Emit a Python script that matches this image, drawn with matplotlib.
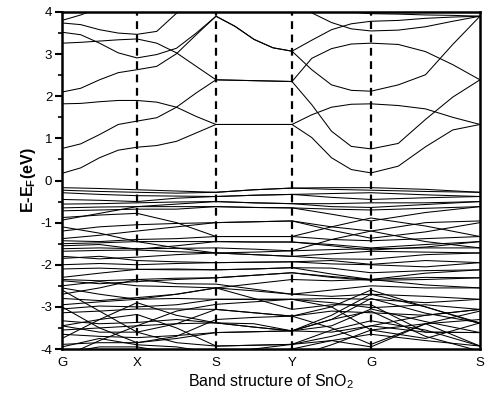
import numpy as np
import matplotlib
matplotlib.use("Agg")
import matplotlib.pyplot as plt

plt.rcParams['font.family'] = ['Liberation Sans', 'DejaVu Sans']
plt.rcParams['mathtext.fontset'] = 'custom'
plt.rcParams['mathtext.rm'] = 'Liberation Sans'
plt.rcParams['mathtext.bf'] = 'Liberation Sans:bold'
plt.rcParams['mathtext.it'] = 'Liberation Sans:italic'

# high-symmetry path and its k-distances (relative)
hs_labels = ["G", "X", "S", "Y", "G", "S"]
hs_k = [0.0, 0.75, 1.54, 2.30, 3.09, 4.18]

# conduction bands: 4 subdivisions per segment (21 points)
cond_bands = [
    [0.17, 0.30, 0.54, 0.72, 0.79, 0.83, 0.93, 1.13, 1.33, 1.33, 1.33, 1.33, 1.33, 1.02, 0.54, 0.26, 0.18, 0.34, 0.80, 1.20, 1.33],
    [0.76, 0.87, 1.09, 1.33, 1.41, 1.49, 1.74, 2.08, 2.39, 2.38, 2.37, 2.36, 2.35, 1.80, 1.17, 0.81, 0.75, 0.88, 1.45, 1.98, 2.39],
    [1.82, 1.83, 1.87, 1.90, 1.90, 1.86, 1.74, 1.52, 1.33, 1.33, 1.33, 1.33, 1.33, 1.56, 1.74, 1.81, 1.82, 1.78, 1.70, 1.50, 1.33],
    [2.10, 2.19, 2.39, 2.56, 2.63, 2.71, 3.01, 3.46, 3.90, 3.66, 3.35, 3.15, 3.07, 2.63, 2.27, 2.14, 2.12, 2.27, 2.51, 3.23, 3.90],
    [3.26, 3.28, 3.31, 3.34, 3.36, 3.26, 3.03, 2.71, 2.39, 2.38, 2.37, 2.36, 2.35, 2.90, 3.13, 3.24, 3.26, 3.23, 3.06, 2.75, 2.39],
    [3.52, 3.46, 3.26, 3.03, 2.91, 2.99, 3.14, 3.50, 3.90, 3.66, 3.35, 3.15, 3.07, 3.33, 3.58, 3.72, 3.78, 3.80, 3.85, 3.88, 3.90],
    [3.74, 3.70, 3.58, 3.50, 3.47, 3.54, 3.97, 4.30, 4.50, 4.50, 4.45, 4.40, 4.35, 3.98, 3.75, 3.60, 3.55, 3.57, 3.65, 3.78, 3.90],
    [3.80, 3.93, 4.10, 4.30, 4.40, 4.50, 4.60, 4.60, 4.60, 4.60, 4.60, 4.60, 4.60, 4.30, 4.10, 4.00, 3.96, 3.95, 3.93, 3.92, 3.90],
]

# valence bands: values at G, G-X mid, X, X-S mid, S, S-Y mid, Y, Y-G mid, G, G-S mid, S
val_bands = [
    [-0.17, -0.19, -0.22, -0.25, -0.28, -0.22, -0.18, -0.17, -0.17, -0.21, -0.28],
    [-0.23, -0.26, -0.28, -0.30, -0.28, -0.22, -0.18, -0.21, -0.23, -0.26, -0.28],
    [-0.29, -0.33, -0.36, -0.37, -0.38, -0.35, -0.33, -0.31, -0.29, -0.34, -0.38],
    [-0.45, -0.47, -0.50, -0.42, -0.38, -0.35, -0.33, -0.40, -0.45, -0.41, -0.38],
    [-0.56, -0.55, -0.53, -0.51, -0.50, -0.53, -0.55, -0.55, -0.53, -0.53, -0.50],
    [-0.65, -0.63, -0.62, -0.56, -0.50, -0.53, -0.55, -0.62, -0.64, -0.57, -0.50],
    [-0.72, -0.70, -0.68, -0.68, -0.62, -0.64, -0.65, -0.68, -0.70, -0.66, -0.62],
    [-0.88, -0.82, -0.78, -1.00, -1.33, -1.33, -1.33, -1.10, -0.89, -1.08, -1.33],
    [-0.94, -0.78, -0.62, -0.62, -0.62, -0.64, -0.65, -0.80, -0.96, -0.76, -0.62],
    [-1.20, -1.10, -1.05, -1.02, -1.00, -0.98, -0.96, -1.10, -1.20, -1.00, -0.96],
    [-1.38, -1.30, -1.20, -1.10, -1.00, -0.98, -0.96, -1.18, -1.37, -1.22, -1.00],
    [-1.10, -1.25, -1.45, -1.60, -1.72, -1.70, -1.67, -1.40, -1.20, -1.45, -1.60],
    [-1.43, -1.45, -1.40, -1.38, -1.33, -1.33, -1.33, -1.40, -1.43, -1.38, -1.33],
    [-1.50, -1.48, -1.45, -1.45, -1.45, -1.46, -1.46, -1.52, -1.60, -1.52, -1.45],
    [-1.55, -1.52, -1.63, -1.55, -1.45, -1.46, -1.46, -1.55, -1.65, -1.58, -1.45],
    [-1.62, -1.60, -1.62, -1.61, -1.60, -1.63, -1.67, -1.64, -1.62, -1.60, -1.60],
    [-1.68, -1.66, -1.65, -1.69, -1.72, -1.76, -1.80, -1.74, -1.68, -1.70, -1.72],
    [-1.80, -1.86, -1.82, -1.76, -1.72, -1.76, -1.80, -1.86, -1.87, -1.76, -1.72],
    [-1.85, -1.80, -1.90, -1.93, -1.95, -1.94, -1.93, -1.90, -1.99, -1.90, -1.95],
    [-2.00, -1.97, -2.00, -1.97, -1.95, -1.94, -1.93, -1.98, -2.00, -2.05, -1.95],
    [-2.10, -2.08, -2.11, -2.12, -2.12, -2.10, -2.07, -2.08, -2.19, -2.14, -2.12],
    [-2.30, -2.20, -2.11, -2.10, -2.12, -2.10, -2.07, -2.22, -2.35, -2.20, -2.12],
    [-2.35, -2.38, -2.35, -2.32, -2.31, -2.25, -2.19, -2.28, -2.35, -2.30, -2.31],
    [-2.38, -2.45, -2.40, -2.35, -2.31, -2.25, -2.19, -2.30, -2.37, -2.35, -2.31],
    [-2.50, -2.40, -2.50, -2.52, -2.55, -2.45, -2.35, -2.38, -2.35, -2.48, -2.55],
    [-2.55, -2.70, -2.82, -2.70, -2.55, -2.80, -3.06, -2.95, -2.95, -3.60, -3.61],
    [-2.70, -2.55, -2.35, -2.45, -2.46, -2.58, -2.70, -2.60, -2.50, -2.55, -2.55],
    [-2.80, -2.85, -2.78, -2.70, -2.55, -2.62, -2.70, -2.75, -2.70, -2.75, -2.82],
    [-2.95, -2.88, -2.82, -2.80, -2.82, -2.82, -2.82, -2.80, -2.82, -2.90, -2.82],
    [-3.05, -2.98, -3.00, -2.95, -2.82, -2.82, -2.82, -2.90, -3.02, -2.95, -3.06],
    [-3.14, -3.10, -3.05, -3.05, -3.06, -3.14, -3.22, -3.10, -3.14, -3.20, -3.06],
    [-2.60, -3.10, -3.60, -3.40, -3.06, -3.14, -3.22, -3.00, -2.60, -3.00, -3.40],
    [-3.45, -3.30, -3.18, -3.50, -3.93, -3.91, -3.89, -3.55, -3.33, -3.55, -3.93],
    [-3.33, -3.40, -3.37, -3.30, -3.38, -3.48, -3.57, -3.20, -2.70, -3.00, -3.38],
    [-3.55, -3.50, -3.45, -3.40, -3.38, -3.48, -3.57, -3.30, -2.80, -3.15, -3.38],
    [-3.75, -3.30, -2.90, -3.20, -3.38, -3.40, -3.57, -3.30, -3.10, -3.70, -4.05],
    [-3.65, -3.70, -3.73, -3.68, -3.61, -3.59, -3.57, -3.45, -3.05, -3.35, -3.61],
    [-3.89, -3.85, -3.85, -3.75, -3.61, -3.59, -3.57, -3.60, -3.45, -3.60, -3.61],
    [-3.45, -3.60, -3.60, -3.85, -3.93, -3.91, -3.89, -3.70, -3.45, -3.20, -3.06],
    [-3.95, -3.75, -3.90, -3.95, -4.10, -4.00, -3.89, -3.80, -3.65, -3.80, -3.93],
    [-3.00, -3.50, -3.85, -3.70, -3.30, -3.25, -3.22, -3.50, -3.89, -3.40, -3.30],
    [-4.20, -3.80, -3.45, -3.10, -2.94, -2.88, -2.82, -3.00, -3.55, -3.40, -3.10],
    [-4.10, -3.95, -3.95, -4.10, -4.20, -4.20, -4.20, -3.90, -3.55, -3.75, -3.38],
    [-4.40, -4.10, -4.20, -4.30, -4.20, -4.10, -4.00, -3.80, -3.95, -3.40, -3.93],
]

y_ticks = [-4, -3, -2, -1, 0, 1, 2, 3, 4]


def k_grid(n_sub):
    pts = [hs_k[0]]
    for a, b in zip(hs_k[:-1], hs_k[1:]):
        pts.extend(np.linspace(a, b, n_sub + 1)[1:])
    return np.array(pts)


fig = plt.figure(figsize=(4.93, 3.96), dpi=100)
ax = fig.add_axes([62 / 493, 47 / 396, 418 / 493, 337 / 396])

kc = k_grid(4)
for band in cond_bands:
    ax.plot(kc, band, color='black', lw=0.75, solid_joinstyle='round')
kv = k_grid(2)
for band in val_bands:
    ax.plot(kv, band, color='black', lw=0.75, solid_joinstyle='round')

for kx in hs_k[1:-1]:
    ax.axvline(kx, color='black', lw=1.6, ls=(0, (3.5, 2.5)))

ax.set_xlim(hs_k[0], hs_k[-1])
ax.set_ylim(-4, 4)
ax.set_xticks(hs_k)
ax.set_xticklabels(hs_labels, fontsize=9.5)
ax.set_yticks(y_ticks)
ax.set_yticklabels([str(t) for t in y_ticks], fontsize=9.5)
ax.set_yticks(np.arange(-3.5, 4, 1.0), minor=True)
ax.tick_params(axis='x', length=0, pad=6)
ax.tick_params(axis='y', which='major', direction='out', length=5, width=1.5, pad=2)
ax.tick_params(axis='y', which='minor', direction='out', length=3, width=1.2)
for s in ax.spines.values():
    s.set_linewidth(1.8)

ax.set_ylabel(r'E-E$_\mathbf{F}$(eV)', fontsize=11.5, fontweight='bold', labelpad=2)
ax.set_xlabel(r'Band structure of SnO$_2$', fontsize=11.5, labelpad=2)

fig.savefig('out.png', dpi=100)
